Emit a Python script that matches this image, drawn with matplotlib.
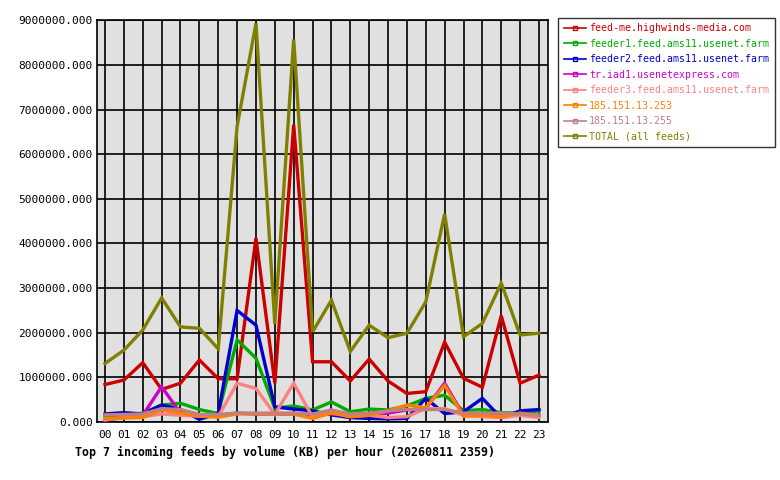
import matplotlib
matplotlib.use("Agg")
import matplotlib.pyplot as plt
from matplotlib.lines import Line2D
from matplotlib.ticker import MultipleLocator, FuncFormatter

hours = ["%02d" % h for h in range(24)]

feed_me = [0.84, 0.94, 1.33, 0.73, 0.87, 1.39, 0.97, 0.97, 4.12, 0.87, 6.66, 1.35,
           1.35, 0.92, 1.41, 0.92, 0.64, 0.68, 1.79, 0.98, 0.78, 2.38, 0.87, 1.05]
feeder1 = [0.10, 0.15, 0.20, 0.38, 0.42, 0.28, 0.19, 1.84, 1.43, 0.31, 0.36, 0.27,
           0.45, 0.23, 0.29, 0.27, 0.36, 0.53, 0.60, 0.25, 0.28, 0.21, 0.20, 0.25]
feeder2 = [0.18, 0.21, 0.18, 0.38, 0.28, 0.06, 0.19, 2.50, 2.17, 0.34, 0.29, 0.25,
           0.16, 0.10, 0.08, 0.07, 0.08, 0.53, 0.19, 0.23, 0.53, 0.09, 0.25, 0.28]
tr_iad1 = [0.04, 0.10, 0.15, 0.79, 0.20, 0.15, 0.15, 0.20, 0.18, 0.18, 0.18, 0.16,
           0.18, 0.15, 0.17, 0.20, 0.27, 0.30, 0.87, 0.15, 0.15, 0.15, 0.18, 0.15]
feeder3 = [0.05, 0.10, 0.12, 0.18, 0.15, 0.13, 0.12, 0.87, 0.75, 0.17, 0.87, 0.11,
           0.22, 0.12, 0.15, 0.10, 0.12, 0.30, 0.30, 0.15, 0.12, 0.10, 0.15, 0.10]
ip_253 = [0.08, 0.09, 0.10, 0.27, 0.20, 0.13, 0.11, 0.18, 0.18, 0.18, 0.18, 0.08,
          0.20, 0.12, 0.15, 0.25, 0.38, 0.32, 0.82, 0.13, 0.15, 0.12, 0.20, 0.15]
ip_255 = [0.16, 0.17, 0.18, 0.30, 0.28, 0.17, 0.17, 0.20, 0.20, 0.20, 0.20, 0.18,
          0.27, 0.18, 0.20, 0.25, 0.28, 0.28, 0.28, 0.20, 0.20, 0.20, 0.18, 0.15]
total = [1.31, 1.61, 2.06, 2.78, 2.13, 2.10, 1.64, 6.62, 8.93, 2.20, 8.57, 2.02,
         2.73, 1.58, 2.17, 1.89, 1.99, 2.69, 4.66, 1.91, 2.21, 3.11, 1.95, 1.99]

names = ["feed-me.highwinds-media.com", "feeder1.feed.ams11.usenet.farm",
         "feeder2.feed.ams11.usenet.farm", "tr.iad1.usenetexpress.com",
         "feeder3.feed.ams11.usenet.farm", "185.151.13.253", "185.151.13.255",
         "TOTAL (all feeds)"]
series = [feed_me, feeder1, feeder2, tr_iad1, feeder3, ip_253, ip_255, total]
colors = ["#cc0000", "#00aa00", "#0000cc", "#cc00cc", "#ff8080", "#ff8000",
          "#c08080", "#808000"]

plt.rcParams['font.family'] = ['DejaVu Sans Mono']

fig = plt.figure(figsize=(7.8, 4.8), dpi=100)
ax = fig.add_axes([0.124, 0.1208, 0.5786, 0.8369])
ax.set_facecolor("#e0e0e0")

x = list(range(24))
for vals, c in zip(series, colors):
    ax.plot(x, [v * 1e6 for v in vals], color=c, lw=2.4, solid_joinstyle='miter',
            zorder=3)

ax.set_xlim(-0.44, 23.48)
ax.set_ylim(0, 9e6)
ax.set_xticks(x)
ax.set_xticklabels(hours)
ax.yaxis.set_major_locator(MultipleLocator(1e6))
ax.yaxis.set_major_formatter(FuncFormatter(lambda v, p: "%.3f" % v))
ax.grid(True, color="black", lw=1.2, zorder=1)
ax.set_axisbelow(True)
ax.tick_params(axis='y', length=0, labelsize=8, pad=3, colors="black")
ax.tick_params(axis='x', length=0, labelsize=8, pad=6, colors="black")
for s in ax.spines.values():
    s.set_color("black")
    s.set_linewidth(1.2)

fig.text(0.096, 0.058, "Top 7 incoming feeds by volume (KB) per hour (20260811 2359)",
         fontsize=8.4, fontweight='bold', ha='left', va='center')

handles = [Line2D([0], [0], color=c, lw=1.2, marker='s', markersize=3,
                  markerfacecolor='none', markeredgecolor=c) for c in colors]
leg = fig.legend(handles, names, loc='upper left', bbox_to_anchor=(0.7155, 0.9625),
                 fontsize=7.1, frameon=True, fancybox=False, handlelength=2.3,
                 handletextpad=0.3, labelspacing=0.55, borderpad=0.55,
                 borderaxespad=0)
leg.get_frame().set_edgecolor("black")
leg.get_frame().set_linewidth(1.0)
for t, c in zip(leg.get_texts(), colors):
    t.set_color(c)

fig.savefig("out.png", dpi=100)
